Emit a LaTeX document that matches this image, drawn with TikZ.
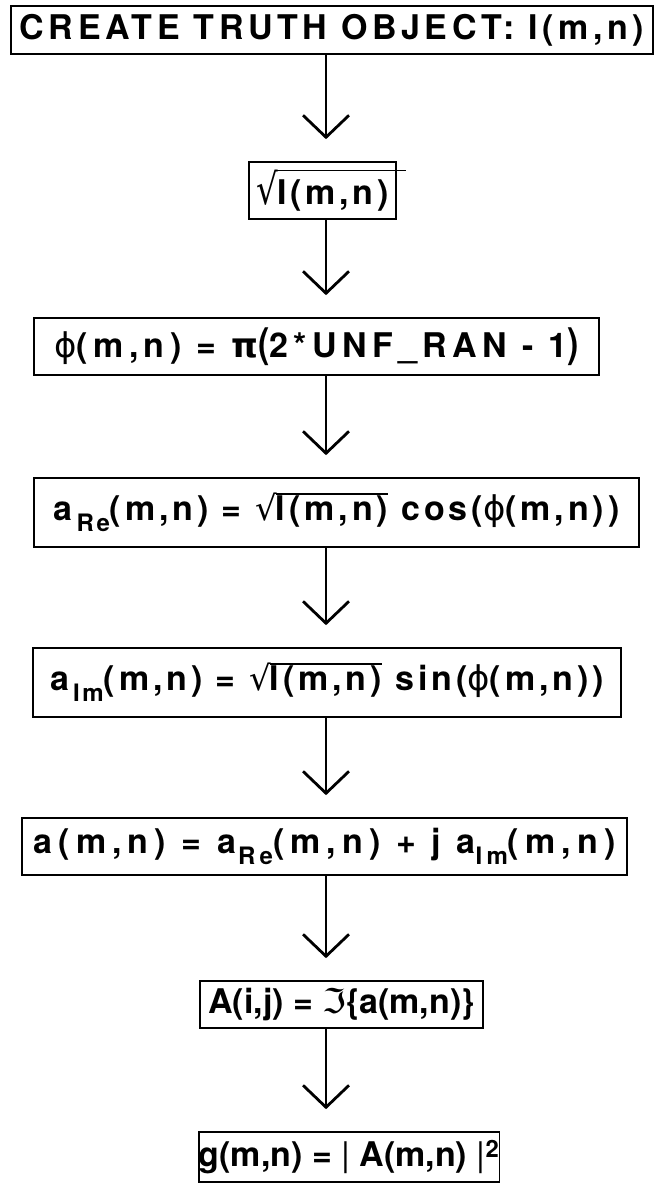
\documentclass[tikz,border=0pt]{standalone}
\usepackage{fontspec}
\setmainfont{TeX Gyre Heros}
\newfontfamily\glyphfont{DejaVu Sans}
\usetikzlibrary{arrows.meta,positioning}

% lowered subscript and a root with its bar
\newcommand{\lowsub}[2][0pt]{\kern#1\raisebox{-11pt}{\fontsize{24}{24}\selectfont #2}}
\NewDocumentCommand{\sqrtof}{O{0pt} O{1} m}{%
  \setbox2\hbox{\scalebox{1}[#2]{\glyphfont\mdseries √}}%
  \dimen2=\dimexpr\ht2-1.4pt\relax
  \box2\kern-1pt%
  \setbox0\hbox{#3}%
  \rlap{\rule[\dimen2]{\dimexpr\wd0+#1\relax}{1.4pt}}\box0\relax}
\newcommand{\bigparen}[1]{\scalebox{1}[1.2]{#1}}

\tikzset{
  stepbox/.style={draw, line width=1.6pt, inner sep=0pt,
    font=\fontsize{34}{40}\selectfont\bfseries\addfontfeature{LetterSpace=#1}},
  stepbox/.default=12,
  flow/.style={-{Straight Barb[length=22pt,width=46pt]}, line width=2.8pt,
    shorten >=22pt},
}

\begin{document}
\begin{tikzpicture}[x=1pt, y=-1pt]
  \useasboundingbox (0,0) rectangle (654,1183);
  \coordinate (spine) at (326,0);

  \node[stepbox=13.5, minimum width=642, minimum height=48] (create) at (332,30)
    {CREATE TRUTH OBJECT: I(m,n)};
  \node[stepbox=11, minimum width=147, minimum height=57] (root) at (322.5,190.5)
    {\sqrtof[18pt][1.25]{I(m,n)}};
  \node[stepbox=16, minimum width=565, minimum height=57] (phase) at (316.5,346.5)
    {{\glyphfont\mdseries ϕ}(m,n) = {\glyphfont π}\bigparen{(}2*UNF\_RAN - 1\bigparen{)}};
  \node[stepbox=11.5, minimum width=605, minimum height=69] (real) at (336.5,512.5)
    {a\lowsub[4pt]{Re}(m,n) = \sqrtof{I(m,n)} cos({\glyphfont\mdseries ϕ}(m,n))};
  \node[stepbox=11.5, minimum width=588, minimum height=69] (imag) at (327,682.5)
    {a\lowsub[4pt]{Im}(m,n) = \sqrtof{I(m,n)} sin({\glyphfont\mdseries ϕ}(m,n))};
  \node[stepbox=18, minimum width=605, minimum height=57] (field) at (324.5,846.5)
    {a(m,n) = a\lowsub[2pt]{Re}(m,n) + j a\lowsub{Im}(m,n)};
  \node[stepbox=0, minimum width=283, minimum height=47] (fourier) at (341.5,1004.5)
    {A(i,j) = {\glyphfont\mdseries ℑ}\{a(m,n)\}};
  \node[stepbox=0, minimum width=298, minimum height=50] (image) at (349,1157)
    {g(m,n) = {\mdseries|} A(m,n) {\mdseries|}\textsuperscript{2}};

  \draw[flow] (create.south -| spine) -- (root.north -| spine);
  \draw[flow] (root.south -| spine) -- (phase.north -| spine);
  \draw[flow] (phase.south -| spine) -- (real.north -| spine);
  \draw[flow] (real.south -| spine) -- (imag.north -| spine);
  \draw[flow] (imag.south -| spine) -- (field.north -| spine);
  \draw[flow] (field.south -| spine) -- (fourier.north -| spine);
  \draw[flow] (fourier.south -| spine) -- (image.north -| spine);
\end{tikzpicture}
\end{document}
